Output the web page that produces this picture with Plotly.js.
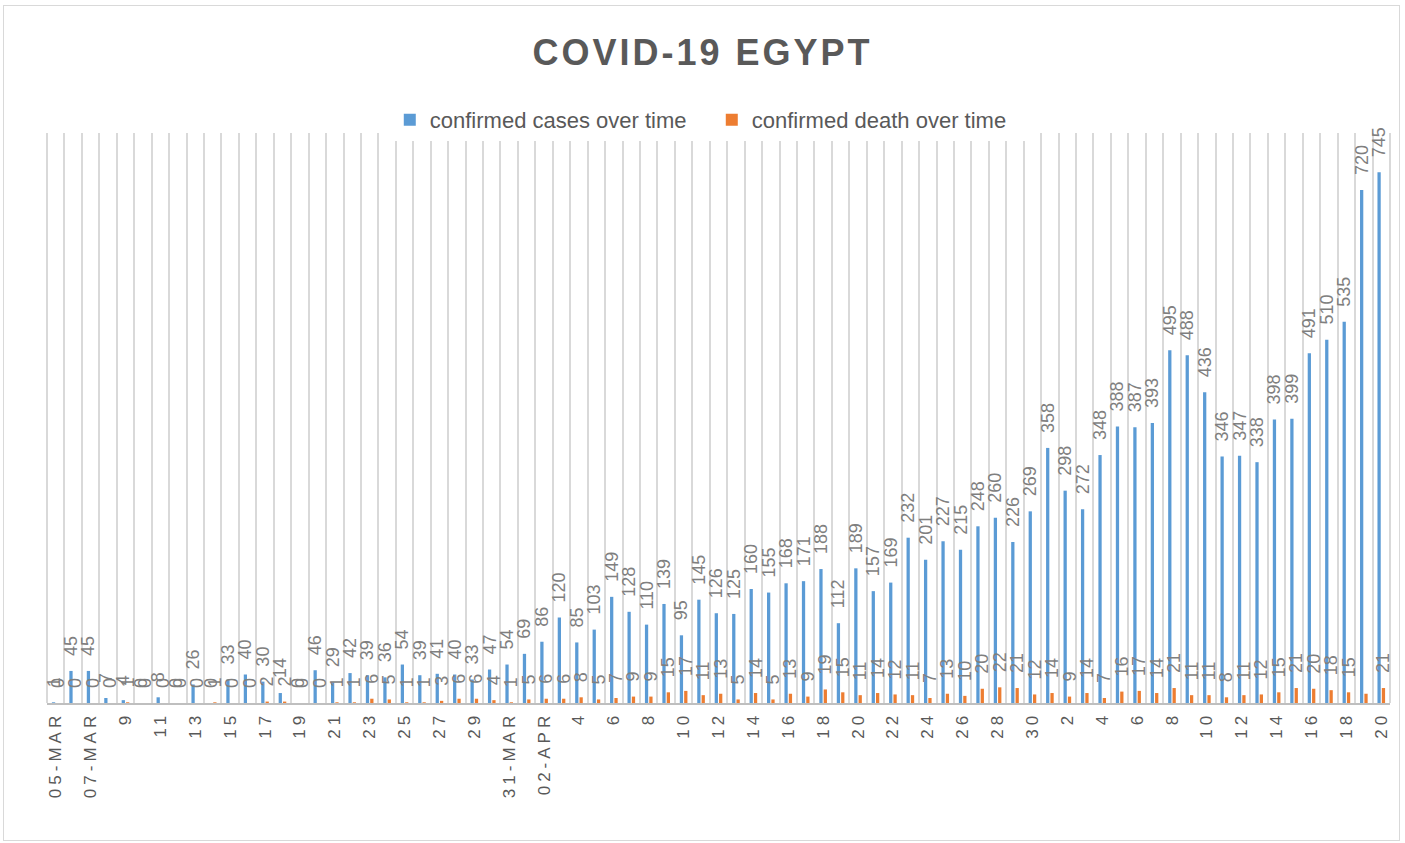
<!DOCTYPE html>
<html>
<head>
<meta charset="utf-8">
<script src="https://cdn.plot.ly/plotly-3.0.1.min.js"></script>
<style>
  html, body { margin: 0; padding: 0; background: #ffffff; }
  #wrap { position: relative; width: 1405px; height: 843px; }
  #chart { width: 1405px; height: 843px; }
  #frame { position: absolute; left: 3px; top: 5px; width: 1397px; height: 836px;
           border: 1px solid #d9d9d9; pointer-events: none; box-sizing: border-box; }
  .gtitle { letter-spacing: 3px; }
  .xtick text { letter-spacing: 4px; }
</style>
</head>
<body>
<div id="wrap">
  <div id="chart"></div>
  <div id="frame"></div>
</div>
<script>
const categories = [
  '05-Mar','06-Mar','07-Mar','08-Mar','09-Mar','10-Mar','11-Mar','12-Mar','13-Mar','14-Mar',
  '15-Mar','16-Mar','17-Mar','18-Mar','19-Mar','20-Mar','21-Mar','22-Mar','23-Mar','24-Mar',
  '25-Mar','26-Mar','27-Mar','28-Mar','29-Mar','30-Mar','31-Mar',
  '01-Apr','02-Apr','03-Apr','04-Apr','05-Apr','06-Apr','07-Apr','08-Apr','09-Apr','10-Apr',
  '11-Apr','12-Apr','13-Apr','14-Apr','15-Apr','16-Apr','17-Apr','18-Apr','19-Apr','20-Apr',
  '21-Apr','22-Apr','23-Apr','24-Apr','25-Apr','26-Apr','27-Apr','28-Apr','29-Apr','30-Apr',
  '01-May','02-May','03-May','04-May','05-May','06-May','07-May','08-May','09-May','10-May',
  '11-May','12-May','13-May','14-May','15-May','16-May','17-May','18-May','19-May','20-May'
];

const confirmedCases = [
  1, 45, 45, 7, 4, 0, 8, 0, 26, 0,
  33, 40, 30, 14, 0, 46, 29, 42, 39, 36,
  54, 39, 41, 40, 33, 47, 54,
  69, 86, 120, 85, 103, 149, 128, 110, 139, 95,
  145, 126, 125, 160, 155, 168, 171, 188, 112, 189,
  157, 169, 232, 201, 227, 215, 248, 260, 226, 269,
  358, 298, 272, 348, 388, 387, 393, 495, 488, 436,
  346, 347, 338, 398, 399, 491, 510, 535, 720, 745
];

const confirmedDeaths = [
  0, 0, 0, 0, 1, 0, 0, 0, 0, 1,
  0, 0, 2, 2, 0, 0, 1, 1, 6, 5,
  1, 1, 3, 6, 6, 4, 1,
  5, 6, 6, 8, 5, 7, 9, 9, 15, 17,
  11, 13, 5, 14, 5, 13, 9, 19, 15, 11,
  14, 12, 11, 7, 13, 10, 20, 22, 21, 12,
  14, 9, 14, 7, 16, 17, 14, 21, 11, 11,
  8, 11, 12, 15, 21, 20, 18, 15, 13, 21
];

// death labels not shown in the original picture
const hiddenDeathLabels = ['19-May'];

const tickLabels = [
  '05-MAR','07-MAR','9','11','13','15','17','19','21','23','25','27','29',
  '31-MAR','02-APR','4','6','8','10','12','14','16','18','20','22','24','26','28','30',
  '2','4','6','8','10','12','14','16','18','20'
];

const seriesNames = ['confirmed cases over time', 'confirmed death over time'];
const seriesColors = ['#5b9bd5', '#ed7d31'];

// every category gets a tick (so grid lines fall on every boundary); only every other is labelled
const tickText = categories.map((c, i) => (i % 2 === 0 ? tickLabels[i / 2] : ''));

// rotated data labels sit a little away from the bar end, as in the original
const LABEL_PAD = '\u00a0\u00a0\u00a0';
const fmtLabel = v => LABEL_PAD + String(v);

const labelFont = { family: 'Liberation Sans, Arial, sans-serif', size: 18, color: '#7f7f7f' };

const traces = [
  {
    type: 'bar', name: seriesNames[0], x: categories, y: confirmedCases,
    marker: { color: seriesColors[0] },
    text: confirmedCases.map(fmtLabel), textposition: 'outside', textangle: -90,
    constraintext: 'none', cliponaxis: false, textfont: labelFont,
    hoverinfo: 'x+y'
  },
  {
    type: 'bar', name: seriesNames[1], x: categories, y: confirmedDeaths,
    marker: { color: seriesColors[1] },
    text: confirmedDeaths.map((v, i) => hiddenDeathLabels.includes(categories[i]) ? '' : fmtLabel(v)),
    textposition: 'outside', textangle: -90,
    constraintext: 'none', cliponaxis: false, textfont: labelFont,
    hoverinfo: 'x+y'
  }
];

const layout = {
  width: 1405, height: 843,
  paper_bgcolor: '#ffffff', plot_bgcolor: '#ffffff',
  margin: { l: 47, r: 15, t: 133, b: 140, pad: 0 },
  title: {
    text: '<b>COVID-19 EGYPT</b>',
    font: { family: 'Liberation Sans, Arial, sans-serif', size: 36, color: '#595959' },
    x: 0.5, xanchor: 'center', y: 1 - 52 / 843, yanchor: 'middle', yref: 'container'
  },
  showlegend: true,
  legend: {
    orientation: 'h', x: 0.495, xanchor: 'center', y: 1 + 13 / 570, yanchor: 'middle',
    font: { family: 'Liberation Sans, Arial, sans-serif', size: 22, color: '#595959' },
    entrywidth: 277, entrywidthmode: 'pixels',
    itemclick: false, itemdoubleclick: false, traceorder: 'normal'
  },
  barmode: 'group', bargap: 0.5, bargroupgap: 0.25,
  xaxis: {
    type: 'category', categoryorder: 'array', categoryarray: categories,
    tickmode: 'array', tickvals: categories, ticktext: tickText,
    tickson: 'boundaries', ticks: '', tickangle: -90,
    tickfont: { family: 'Liberation Sans, Arial, sans-serif', size: 17, color: '#595959' },
    showgrid: true, gridcolor: '#d9d9d9', gridwidth: 2,
    showline: true, linecolor: '#bfbfbf', linewidth: 2,
    range: [-0.5, categories.length - 0.5], fixedrange: true
  },
  yaxis: {
    range: [0, 800], showgrid: false, zeroline: false, showticklabels: false,
    showline: false, ticks: '', fixedrange: true
  },
  shapes: [
    { type: 'line', xref: 'paper', yref: 'paper', x0: 0, x1: 0, y0: 0, y1: 1,
      line: { color: '#d9d9d9', width: 2 }, layer: 'below' },
    { type: 'line', xref: 'paper', yref: 'paper', x0: 1, x1: 1, y0: 0, y1: 1,
      line: { color: '#d9d9d9', width: 2 }, layer: 'below' }
  ]
};

Plotly.newPlot('chart', traces, layout, { displayModeBar: false, staticPlot: true });
</script>
</body>
</html>
